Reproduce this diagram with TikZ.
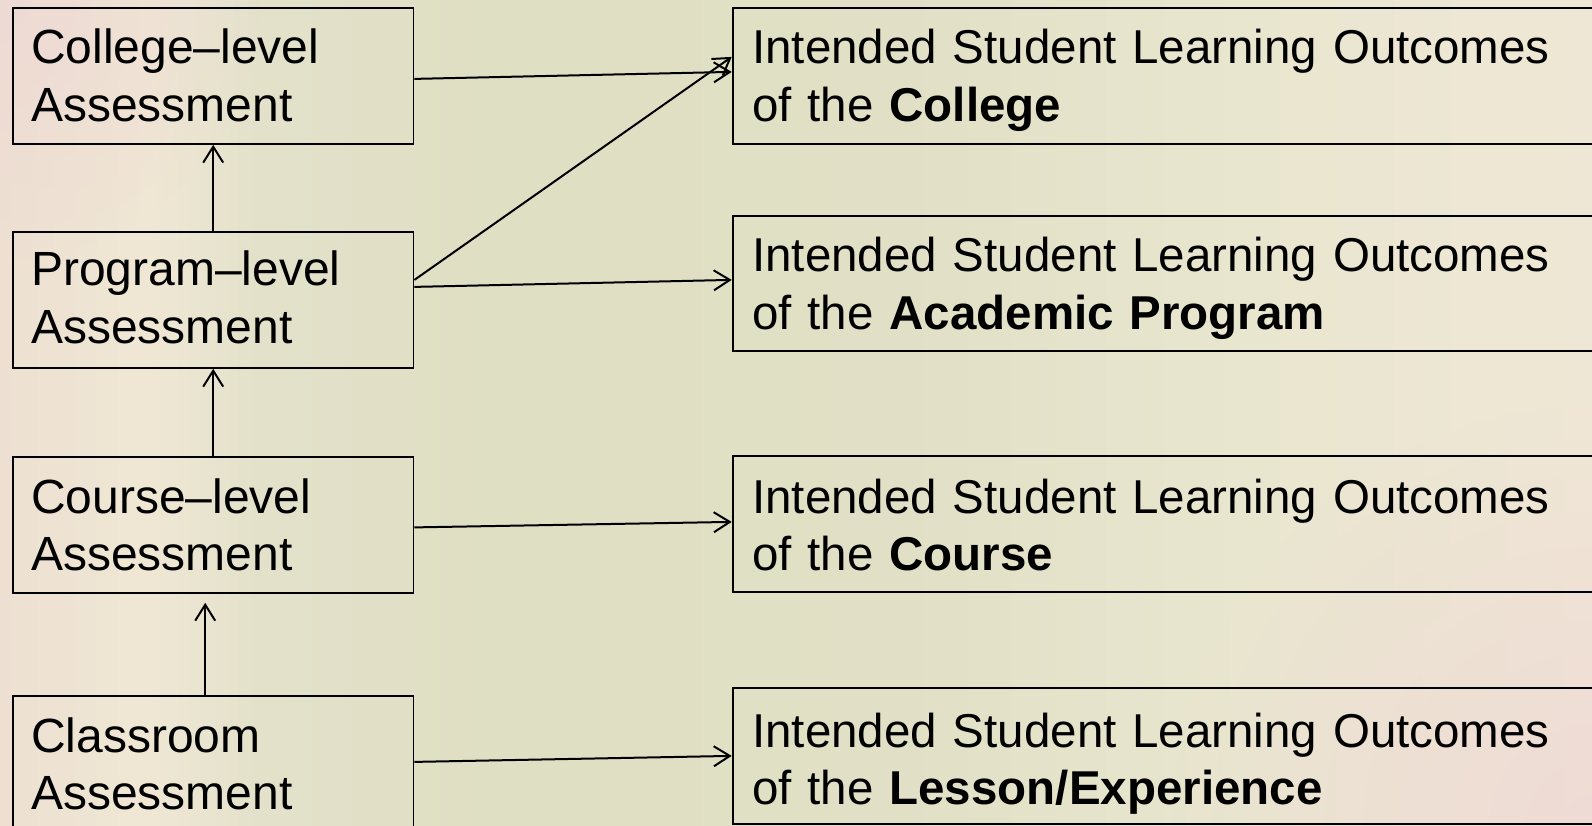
\documentclass[tikz,border=0pt]{standalone}
\usepackage{fontspec}
\setmainfont{Liberation Sans}
\usetikzlibrary{arrows.meta,fadings}
\definecolor{bg0}{HTML}{EDE0D2}
\definecolor{bg1}{HTML}{EFE7D4}
\definecolor{bg2}{HTML}{E3E1CA}
\definecolor{bg3}{HTML}{DFDFC3}
\definecolor{bg4}{HTML}{E1E0C6}
\definecolor{bg5}{HTML}{E9E6CF}
\definecolor{bg6}{HTML}{EFE7D5}
\definecolor{bgpink}{HTML}{EFD9D5}
\pgfdeclarehorizontalshading{bgshade}{100bp}{color(0bp)=(bg0); color(25bp)=(bg0); color(29.7bp)=(bg1); color(33.2bp)=(bg2); color(40.7bp)=(bg3); color(53.3bp)=(bg4); color(64.3bp)=(bg5); color(75bp)=(bg6); color(100bp)=(bg6)}
\tikzfading[name=softfade, inner color=transparent!15, outer color=transparent!100]
\tikzset{
  box/.style={draw=black, line width=1.8pt, rectangle, minimum height=136pt, inner sep=0pt, anchor=north west},
  lbox/.style={box, minimum width=400.6pt},
  rbox/.style={box, minimum width=900pt},
  txt/.style={font=\fontsize{48}{57.5}\selectfont, anchor=base west, inner sep=0pt, align=left, text width=850pt},
  rtxt/.style={txt, font=\fontsize{47.5}{57.5}\selectfont},
  conn/.style={line width=2pt, -{Straight Barb[length=16pt,width=20pt]}}
}
\begin{document}
\begin{tikzpicture}[x=1pt,y=-1pt]
\clip (0,0) rectangle (1592,826);
\shade[shading=bgshade] (0,0) rectangle (1592,826);
\fill[bgpink, path fading=softfade] (1592,826) circle (420);
\fill[bgpink, path fading=softfade] (0,0) circle (260);

% left boxes
\node[lbox] (c1) at (12,7) {};
\node[lbox] (p) at (12,231) {};
\node[lbox] (c3) at (12,456) {};
\node[lbox] (c4) at (12,695) {};
% right boxes
\node[rbox] (o1) at (731.7,7) {};
\node[rbox, minimum height=135pt] (o2) at (731.7,215) {};
\node[rbox] (o3) at (731.7,455) {};
\node[rbox] (o4) at (731.7,687) {};

% texts
\node[txt] (t1) at (31,64) {College–level\\Assessment};
\node[txt] (t2) at (31,286) {Program–level\\Assessment};
\node[txt] (t3) at (31,513) {Course–level\\Assessment};
\node[txt] (t4) at (31,752) {Classroom\\Assessment};
\node[rtxt] (u1) at (752,64) {Intended Student Learning Outcomes\\of the \textbf{College}};
\node[rtxt] (u2) at (752,272) {Intended Student Learning Outcomes\\of the \textbf{Academic Program}};
\node[rtxt] (u3) at (752,513) {Intended Student Learning Outcomes\\of the \textbf{Course}};
\node[rtxt] (u4) at (752,747) {Intended Student Learning Outcomes\\of the \textbf{Lesson/Experience}};

% connectors
\draw[conn] ([yshift=-3pt]c1.east) -- ([yshift=4pt]o1.west);
\draw[conn] ([yshift=20pt]p.east) -- ([yshift=19pt]o1.west);
\draw[conn] ([yshift=13pt]p.east) -- ([yshift=3.5pt]o2.west);
\draw[conn] ([yshift=-2.5pt]c3.east) -- ([yshift=2pt]o3.west);
\draw[conn] ([yshift=2pt]c4.east) -- (o4.west);
\draw[conn] (p.north) -- (c1.south);
\draw[conn] (c3.north) -- (p.south);
\draw[conn] ([xshift=-8pt]c4.north) -- ([xshift=-8pt,yshift=-9pt]c3.south);
\end{tikzpicture}
\end{document}
